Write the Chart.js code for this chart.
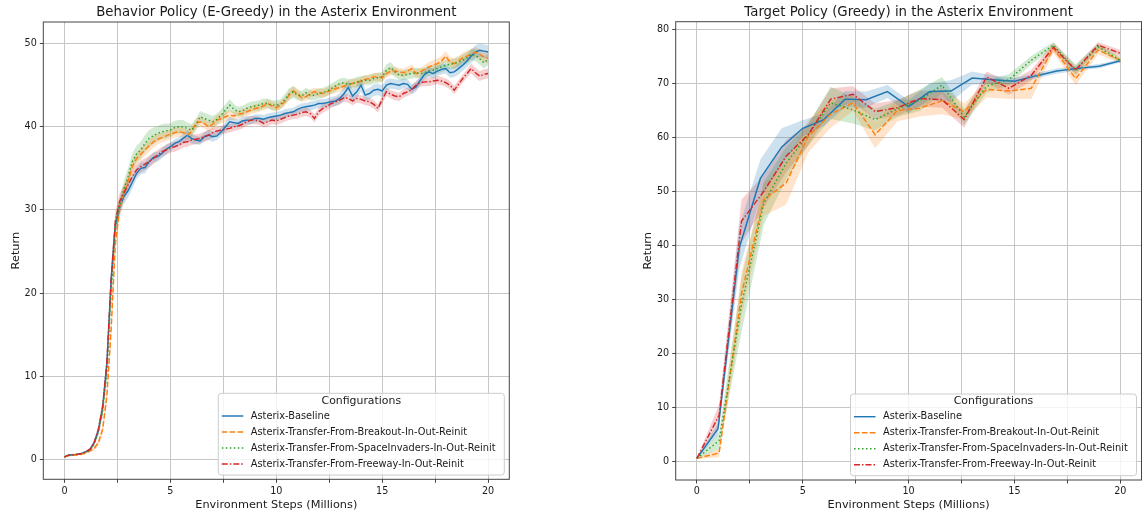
<!DOCTYPE html>
<html>
<head>
<meta charset="utf-8">
<script src="https://cdn.jsdelivr.net/npm/chart.js@4.4.1/dist/chart.umd.min.js"></script>
<style>
  html, body { margin: 0; padding: 0; background: #fff; }
  body { width: 1148px; height: 516px; position: relative; overflow: hidden; }
  #behavior-wrap { position: absolute; left: 0; top: 0; width: 520px; height: 516px; }
  #target-wrap { position: absolute; left: 632px; top: 0; width: 516px; height: 516px; }
</style>
</head>
<body>
<div id="behavior-wrap"><canvas id="behavior-chart" width="520" height="516"></canvas></div>
<div id="target-wrap"><canvas id="target-chart" width="516" height="516"></canvas></div>
<script>
  "use strict";

  // Legend labels
  const seriesLabels = [
    "Asterix-Baseline",
    "Asterix-Transfer-From-Breakout-In-Out-Reinit",
    "Asterix-Transfer-From-SpaceInvaders-In-Out-Reinit",
    "Asterix-Transfer-From-Freeway-In-Out-Reinit",
  ];

  // Axis ticks
  const stepTicks = [0, 2.5, 5, 7.5, 10, 12.5, 15, 17.5, 20];
  const stepTickLabels = ["0", "", "5", "", "10", "", "15", "", "20"];
  const behaviorYTicks = [0, 10, 20, 30, 40, 50];
  const targetYTicks = [0, 10, 20, 30, 40, 50, 60, 70, 80];

  // Behavior policy (left) : steps in millions
  const behaviorSteps = [
    0, 0.2, 0.4, 0.6, 0.8, 1, 1.2, 1.4, 1.6, 1.8,
    2, 2.2, 2.4, 2.6, 2.8, 3, 3.2, 3.4, 3.6, 3.8,
    4, 4.2, 4.4, 4.6, 4.8, 5, 5.2, 5.4, 5.6, 5.8,
    6, 6.2, 6.4, 6.6, 6.8, 7, 7.2, 7.4, 7.6, 7.8,
    8, 8.2, 8.4, 8.6, 8.8, 9, 9.2, 9.4, 9.6, 9.8,
    10, 10.2, 10.4, 10.6, 10.8, 11, 11.2, 11.4, 11.6, 11.8,
    12, 12.2, 12.4, 12.6, 12.8, 13, 13.2, 13.4, 13.6, 13.8,
    14, 14.2, 14.4, 14.6, 14.8, 15, 15.2, 15.4, 15.6, 15.8,
    16, 16.2, 16.4, 16.6, 16.8, 17, 17.2, 17.4, 17.6, 17.8,
    18, 18.2, 18.4, 18.6, 18.8, 19, 19.2, 19.4, 19.6, 19.8,
    20,
  ];
  const behaviorBaseline = [
    0.3, 0.5, 0.55, 0.6, 0.7, 0.9, 1.2, 2.0, 3.5, 6.2,
    11.5, 21.5, 28.2, 30.3, 31.6, 32.3, 33.3, 34.4, 35.0, 35.1,
    35.8, 36.3, 36.4, 36.8, 37.3, 37.6, 38.0, 38.2, 38.6, 39.0,
    38.6, 38.4, 38.3, 38.8, 39.0, 38.8, 38.9, 39.4, 40.0, 40.6,
    40.5, 40.4, 40.7, 40.8, 40.8, 41.0, 41.0, 40.9, 41.1, 41.2,
    41.3, 41.4, 41.6, 41.7, 41.8, 42.1, 42.3, 42.4, 42.5, 42.6,
    42.8, 42.8, 42.9, 43.0, 43.1, 43.4, 44.0, 44.7, 43.7, 44.2,
    45.0, 43.8, 44.0, 44.4, 44.5, 44.3, 45.0, 45.2, 45.1, 45.0,
    45.2, 45.1, 44.5, 44.8, 45.6, 46.3, 46.6, 46.4, 46.7, 46.9,
    47.0, 46.5, 46.6, 47.0, 47.4, 47.9, 48.5, 49.0, 49.2, 49.1,
    49.0,
  ];
  const behaviorBreakout = [
    0.3, 0.45, 0.5, 0.55, 0.6, 0.75, 1.0, 1.3, 2.0, 3.6,
    7.6, 15.5, 26.0, 30.0, 32.0, 33.5, 35.2, 36.2, 36.7, 37.2,
    37.7, 38.2, 38.5, 38.7, 38.9, 39.1, 39.3, 39.4, 39.3, 39.0,
    39.4, 40.4, 40.6, 40.4, 40.0, 40.3, 40.8, 41.0, 41.2, 41.4,
    41.3, 41.5, 41.6, 41.8, 42.0, 42.2, 42.3, 42.5, 42.8, 42.5,
    42.3, 42.6, 43.0, 43.8, 44.3, 44.0, 43.5, 43.6, 44.0, 44.2,
    44.1, 44.0, 44.2, 44.4, 44.6, 44.7, 44.9, 45.1, 45.2, 45.3,
    45.5, 45.7, 45.8, 46.0, 46.0, 45.9, 46.4, 46.7, 46.7, 46.6,
    46.5, 46.7, 47.0, 46.4, 46.6, 46.9, 47.2, 47.4, 47.6, 47.9,
    48.5, 47.8, 47.6, 47.9, 48.3, 48.5, 48.7, 49.0, 48.7, 48.4,
    48.2,
  ];
  const behaviorSpaceInvaders = [
    0.3, 0.5, 0.55, 0.6, 0.7, 0.85, 1.1, 1.8, 3.3, 5.8,
    10.5, 20.0, 28.0, 30.5, 32.5, 34.0, 35.8, 36.7, 37.2, 38.0,
    38.6, 38.9, 39.2, 39.4, 39.5, 39.6, 39.9, 40.0, 40.0, 39.8,
    39.6, 40.2, 41.2, 41.0, 40.8, 40.6, 40.9, 41.4, 42.0, 42.6,
    42.1, 41.8, 41.9, 42.2, 42.4, 42.5, 42.6, 42.8, 42.8, 42.6,
    42.6, 42.7, 43.3, 43.9, 44.2, 43.8, 43.7, 44.1, 43.8, 43.8,
    44.0, 44.1, 44.3, 44.6, 44.9, 45.2, 45.3, 45.1, 45.2, 45.4,
    45.5, 45.6, 45.6, 45.8, 45.9, 46.0, 46.8, 47.1, 46.6, 46.2,
    46.2, 46.3, 46.4, 46.5, 46.4, 46.5, 46.7, 46.8, 47.0, 47.2,
    47.4, 47.5, 47.6, 47.8, 48.0, 48.3, 48.7, 48.6, 48.2, 47.7,
    48.1,
  ];
  const behaviorFreeway = [
    0.3, 0.5, 0.55, 0.6, 0.7, 0.9, 1.2, 2.0, 3.6, 6.3,
    11.5, 21.5, 28.6, 31.0, 32.0, 33.0, 34.0, 34.8, 35.2, 35.5,
    35.8, 36.2, 36.6, 37.0, 37.2, 37.5, 37.6, 37.8, 38.1, 38.2,
    38.4, 38.5, 38.6, 38.8, 39.0, 39.3, 39.5, 39.6, 39.7, 39.8,
    40.0, 40.1, 40.3, 40.6, 40.8, 40.8, 40.7, 40.4, 40.6, 40.8,
    40.7, 40.9, 41.1, 41.3, 41.4, 41.5, 41.7, 41.8, 41.6, 41.0,
    41.8, 42.2, 42.5, 42.8, 43.0, 43.2, 43.5, 43.4, 43.1, 43.4,
    43.3, 43.1, 43.0, 42.7, 42.2, 43.3, 44.2, 43.9, 43.7, 43.6,
    44.0, 44.2, 44.5, 45.0, 45.3, 45.4, 45.4, 45.5, 45.6, 45.5,
    45.3, 45.0, 44.4, 45.1, 45.8, 46.4, 47.0, 46.5, 46.1, 46.3,
    46.4,
  ];
  // half width of the shaded confidence band
  const behaviorBaselineBand = [
    0.1, 0.1, 0.1, 0.1, 0.1, 0.1, 0.2, 0.3, 0.5, 0.8,
    1.2, 1.5, 1.0, 0.9, 0.9, 0.8, 0.8, 0.7, 0.7, 0.7,
    0.6, 0.6, 0.6, 0.6, 0.6, 0.5, 0.5, 0.5, 0.6, 0.6,
    0.6, 0.5, 0.5, 0.5, 0.6, 0.6, 0.5, 0.5, 0.6, 0.6,
    0.5, 0.5, 0.5, 0.5, 0.5, 0.5, 0.5, 0.5, 0.5, 0.5,
    0.5, 0.5, 0.5, 0.5, 0.5, 0.5, 0.5, 0.5, 0.5, 0.5,
    0.5, 0.5, 0.5, 0.6, 0.6, 0.7, 0.8, 0.8, 0.8, 0.8,
    0.8, 0.7, 0.7, 0.7, 0.7, 0.7, 0.7, 0.6, 0.6, 0.6,
    0.6, 0.6, 0.6, 0.6, 0.6, 0.6, 0.6, 0.6, 0.6, 0.6,
    0.6, 0.6, 0.6, 0.7, 0.7, 0.7, 0.8, 0.8, 0.8, 0.8,
    0.8,
  ];
  const behaviorBreakoutBand = [
    0.1, 0.1, 0.1, 0.1, 0.1, 0.1, 0.1, 0.2, 0.3, 0.6,
    1.0, 1.5, 1.5, 1.0, 0.9, 0.8, 0.8, 0.7, 0.7, 0.7,
    0.7, 0.7, 0.6, 0.6, 0.6, 0.6, 0.6, 0.6, 0.6, 0.6,
    0.6, 0.6, 0.6, 0.6, 0.6, 0.6, 0.6, 0.6, 0.6, 0.6,
    0.5, 0.5, 0.5, 0.5, 0.5, 0.5, 0.5, 0.5, 0.5, 0.5,
    0.5, 0.5, 0.5, 0.6, 0.6, 0.6, 0.5, 0.5, 0.5, 0.5,
    0.5, 0.5, 0.5, 0.5, 0.5, 0.5, 0.5, 0.5, 0.5, 0.5,
    0.5, 0.5, 0.5, 0.5, 0.5, 0.5, 0.5, 0.5, 0.5, 0.5,
    0.5, 0.5, 0.5, 0.5, 0.5, 0.5, 0.6, 0.6, 0.6, 0.6,
    0.6, 0.6, 0.6, 0.6, 0.6, 0.6, 0.6, 0.6, 0.6, 0.6,
    0.6,
  ];
  const behaviorSpaceInvadersBand = [
    0.1, 0.1, 0.1, 0.1, 0.1, 0.1, 0.1, 0.2, 0.4, 0.7,
    1.2, 1.5, 1.2, 1.0, 1.0, 1.0, 1.0, 1.0, 1.0, 1.0,
    1.0, 1.0, 0.9, 0.9, 0.9, 0.8, 0.8, 0.8, 0.8, 0.7,
    0.7, 0.7, 0.7, 0.7, 0.7, 0.7, 0.7, 0.7, 0.7, 0.7,
    0.6, 0.6, 0.6, 0.6, 0.6, 0.6, 0.6, 0.6, 0.6, 0.6,
    0.6, 0.6, 0.6, 0.7, 0.7, 0.6, 0.6, 0.6, 0.6, 0.6,
    0.6, 0.6, 0.6, 0.6, 0.6, 0.6, 0.6, 0.6, 0.6, 0.6,
    0.6, 0.6, 0.6, 0.6, 0.6, 0.6, 0.7, 0.7, 0.6, 0.6,
    0.6, 0.6, 0.6, 0.6, 0.6, 0.6, 0.6, 0.6, 0.6, 0.6,
    0.6, 0.6, 0.6, 0.6, 0.7, 0.7, 0.7, 0.7, 0.7, 0.7,
    0.7,
  ];
  const behaviorFreewayBand = [
    0.1, 0.1, 0.1, 0.1, 0.1, 0.1, 0.2, 0.3, 0.5, 0.8,
    1.2, 1.5, 1.2, 1.0, 0.9, 0.8, 0.8, 0.7, 0.7, 0.7,
    0.7, 0.7, 0.6, 0.6, 0.6, 0.6, 0.6, 0.6, 0.6, 0.6,
    0.6, 0.6, 0.6, 0.6, 0.6, 0.6, 0.5, 0.5, 0.5, 0.5,
    0.5, 0.5, 0.5, 0.5, 0.5, 0.5, 0.5, 0.5, 0.5, 0.5,
    0.5, 0.5, 0.5, 0.5, 0.5, 0.5, 0.5, 0.5, 0.5, 0.5,
    0.5, 0.5, 0.5, 0.5, 0.5, 0.5, 0.5, 0.5, 0.5, 0.5,
    0.5, 0.5, 0.5, 0.5, 0.5, 0.5, 0.5, 0.5, 0.5, 0.5,
    0.5, 0.5, 0.5, 0.5, 0.5, 0.5, 0.5, 0.5, 0.5, 0.5,
    0.5, 0.5, 0.5, 0.5, 0.5, 0.5, 0.6, 0.6, 0.6, 0.6,
    0.6,
  ];

  // Target policy (right) : evaluation points
  const targetBaselineSteps = [0, 1, 2, 3, 4, 5, 6, 7, 8, 9, 10, 11, 12, 13, 14, 15, 16, 17, 18, 19, 20];
  const targetTransferSteps = [0, 1.05, 2.11, 3.16, 4.21, 5.26, 6.32, 7.37, 8.42, 9.47, 10.53, 11.58, 12.63, 13.68, 14.74, 15.79, 16.84, 17.89, 18.95, 20];
  const targetBaseline = [0.5, 6.0, 39.5, 52.4, 58.2, 61.7, 63.3, 67.1, 67.0, 68.5, 65.7, 68.5, 68.6, 71.0, 70.7, 70.4, 71.4, 72.3, 72.8, 73.2, 74.2];
  const targetBreakout = [0.5, 1.5, 31.0, 48.5, 51.5, 60.2, 64.3, 66.4, 60.5, 65.0, 65.4, 66.8, 64.8, 68.9, 68.6, 69.1, 76.5, 70.9, 76.2, 74.3];
  const targetSpaceInvaders = [0.5, 3.8, 29.0, 47.8, 55.2, 60.5, 66.4, 65.1, 63.3, 65.3, 66.9, 69.7, 63.8, 69.5, 70.7, 74.3, 77.1, 72.5, 76.8, 74.3];
  const targetFreeway = [0.5, 8.5, 44.5, 50.0, 56.5, 60.5, 67.1, 68.0, 64.8, 65.5, 67.2, 67.0, 63.3, 71.2, 69.1, 71.5, 76.7, 72.5, 77.1, 75.6];
  const targetBaselineBand = [0.1, 1.0, 4.0, 3.5, 3.5, 1.5, 1.2, 1.5, 1.5, 1.2, 1.2, 1.5, 2.0, 1.2, 0.8, 0.6, 0.5, 0.5, 0.4, 0.4, 0.3];
  const targetBreakoutBand = [0.1, 0.8, 4.0, 3.0, 4.0, 3.0, 2.5, 1.5, 2.5, 2.0, 1.5, 2.5, 1.5, 1.5, 1.5, 2.0, 0.8, 1.2, 0.8, 0.6];
  const targetSpaceInvadersBand = [0.1, 1.5, 5.0, 4.0, 3.0, 2.0, 3.0, 2.5, 2.0, 1.5, 2.0, 1.5, 1.5, 1.2, 1.0, 0.8, 0.6, 1.0, 0.6, 0.5];
  const targetFreewayBand = [0.1, 2.0, 4.0, 3.0, 3.0, 2.0, 2.0, 1.5, 1.5, 1.5, 1.5, 1.5, 1.5, 1.0, 1.2, 1.0, 0.8, 0.8, 0.6, 0.6];

  // Styles (tab10 colours, matplotlib line styles)
  const seriesStyles = [
    { color: "#1f77b4", band: "rgba(31, 119, 180, 0.22)", dash: [] },
    { color: "#ff7f0e", band: "rgba(255, 127, 14, 0.22)", dash: [5.5, 2.4] },
    { color: "#2ca02c", band: "rgba(44, 160, 44, 0.22)", dash: [1.5, 2.5] },
    { color: "#d62728", band: "rgba(214, 39, 40, 0.22)", dash: [6, 2, 1.5, 2] },
  ];
  const FONT = "'DejaVu Sans', sans-serif";
  const TEXT_COLOR = "#1a1a1a";
  const GRID_COLOR = "#c6c6c6";

  Chart.defaults.font.family = FONT;
  Chart.defaults.color = TEXT_COLOR;

  function buildDatasets(series) {
    const datasets = [];
    series.forEach((s, k) => {
      const style = seriesStyles[k];
      const upper = s.steps.map((x, i) => ({ x: x, y: s.mean[i] + s.band[i] }));
      const lower = s.steps.map((x, i) => ({ x: x, y: s.mean[i] - s.band[i] }));
      datasets.push({
        data: upper, borderWidth: 0, pointRadius: 0, fill: false, order: 20 + k,
      });
      datasets.push({
        data: lower, borderWidth: 0, pointRadius: 0, fill: "-1",
        backgroundColor: style.band, order: 20 + k,
      });
      datasets.push({
        label: seriesLabels[k], data: s.steps.map((x, i) => ({ x: x, y: s.mean[i] })),
        borderColor: style.color, borderWidth: 1.45, borderDash: style.dash,
        pointRadius: 0, fill: false, tension: 0, order: 4 - k,
      });
    });
    return datasets;
  }

  function makeDecorPlugin(titleText) {
    return {
      id: "decor",
      afterDatasetsDraw(chart) {
        const ctx = chart.ctx;
        const a = chart.chartArea;
        ctx.save();
        ctx.strokeStyle = "#444";
        ctx.lineWidth = 1;
        ctx.strokeRect(a.left, a.top, a.right - a.left, a.bottom - a.top);
        ctx.restore();
      },
      afterDraw(chart) {
        const ctx = chart.ctx;
        const a = chart.chartArea;
        const cx = (a.left + a.right) / 2;
        ctx.save();
        ctx.fillStyle = TEXT_COLOR;
        ctx.textAlign = "center";
        ctx.textBaseline = "alphabetic";
        ctx.font = `13.3px ${FONT}`;
        ctx.fillText(titleText, cx, 16);
        ctx.font = `11.3px ${FONT}`;
        ctx.fillText("Environment Steps (Millions)", cx, 507.5);
        ctx.save();
        ctx.translate(a.left - 24.8, (a.top + a.bottom) / 2);
        ctx.rotate(-Math.PI / 2);
        ctx.fillText("Return", 0, 0);
        ctx.restore();

        // legend
        const w = 286, h = 81.7;
        const left = a.right - 5 - w;
        const top = a.bottom - 4.3 - h;
        ctx.beginPath();
        ctx.roundRect(left, top, w, h, 3);
        ctx.fillStyle = "rgba(255, 255, 255, 0.8)";
        ctx.fill();
        ctx.strokeStyle = "#cccccc";
        ctx.lineWidth = 1;
        ctx.stroke();

        ctx.fillStyle = TEXT_COLOR;
        ctx.textBaseline = "middle";
        ctx.font = `10.9px ${FONT}`;
        ctx.fillText("Configurations", left + w / 2, top + 7.6);
        ctx.textAlign = "left";
        ctx.font = `9.8px ${FONT}`;
        seriesLabels.forEach((label, k) => {
          const y = top + 22.7 + 16 * k;
          ctx.save();
          ctx.strokeStyle = seriesStyles[k].color;
          ctx.lineWidth = 1.45;
          ctx.setLineDash(seriesStyles[k].dash);
          ctx.beginPath();
          ctx.moveTo(left + 3.5, y);
          ctx.lineTo(left + 25, y);
          ctx.stroke();
          ctx.restore();
          ctx.fillText(label, left + 32.5, y);
        });
        ctx.restore();
      },
    };
  }

  function renderPanel(canvasId, cfg) {
    const canvas = document.getElementById(canvasId);
    return new Chart(canvas, {
      type: "line",
      data: { datasets: buildDatasets(cfg.series) },
      options: {
        responsive: false,
        animation: false,
        devicePixelRatio: 1,
        events: [],
        layout: { padding: { left: 0, right: cfg.padRight, top: cfg.padTop, bottom: 0 } },
        plugins: { legend: { display: false }, tooltip: { enabled: false }, title: { display: false } },
        scales: {
          x: {
            type: "linear",
            min: -1,
            max: 21,
            afterBuildTicks: (axis) => { axis.ticks = stepTicks.map((v) => ({ value: v })); },
            afterFit: (axis) => { axis.height = cfg.xAxisHeight; },
            grid: { color: GRID_COLOR, lineWidth: 1, tickLength: 3.5, tickColor: "#444" },
            border: { display: false },
            ticks: {
              autoSkip: false, maxRotation: 0, padding: 2.5,
              font: { size: 9.6 }, color: TEXT_COLOR,
              callback: (value, index) => stepTickLabels[index],
            },
          },
          y: {
            type: "linear",
            min: cfg.yMin,
            max: cfg.yMax,
            afterBuildTicks: (axis) => { axis.ticks = cfg.yTicks.map((v) => ({ value: v })); },
            afterFit: (axis) => { axis.width = cfg.yAxisWidth; },
            grid: { color: GRID_COLOR, lineWidth: 1, tickLength: 3.5, tickColor: "#444" },
            border: { display: false },
            ticks: {
              padding: 3, font: { size: 9.6 }, color: TEXT_COLOR,
              callback: (value) => String(value),
            },
          },
        },
      },
      plugins: [makeDecorPlugin(cfg.title)],
    });
  }

  renderPanel("behavior-chart", {
    title: "Behavior Policy (E-Greedy) in the Asterix Environment",
    yMin: -2.4, yMax: 52.6, yTicks: behaviorYTicks,
    padTop: 22, padRight: 10.7, yAxisWidth: 43.3, xAxisHeight: 36.7,
    series: [
      { steps: behaviorSteps, mean: behaviorBaseline, band: behaviorBaselineBand },
      { steps: behaviorSteps, mean: behaviorBreakout, band: behaviorBreakoutBand },
      { steps: behaviorSteps, mean: behaviorSpaceInvaders, band: behaviorSpaceInvadersBand },
      { steps: behaviorSteps, mean: behaviorFreeway, band: behaviorFreewayBand },
    ],
  });

  renderPanel("target-chart", {
    title: "Target Policy (Greedy) in the Asterix Environment",
    yMin: -3.5, yMax: 81.45, yTicks: targetYTicks,
    padTop: 21.7, padRight: 6.5, yAxisWidth: 43.7, xAxisHeight: 36,
    series: [
      { steps: targetBaselineSteps, mean: targetBaseline, band: targetBaselineBand },
      { steps: targetTransferSteps, mean: targetBreakout, band: targetBreakoutBand },
      { steps: targetTransferSteps, mean: targetSpaceInvaders, band: targetSpaceInvadersBand },
      { steps: targetTransferSteps, mean: targetFreeway, band: targetFreewayBand },
    ],
  });
</script>
</body>
</html>
